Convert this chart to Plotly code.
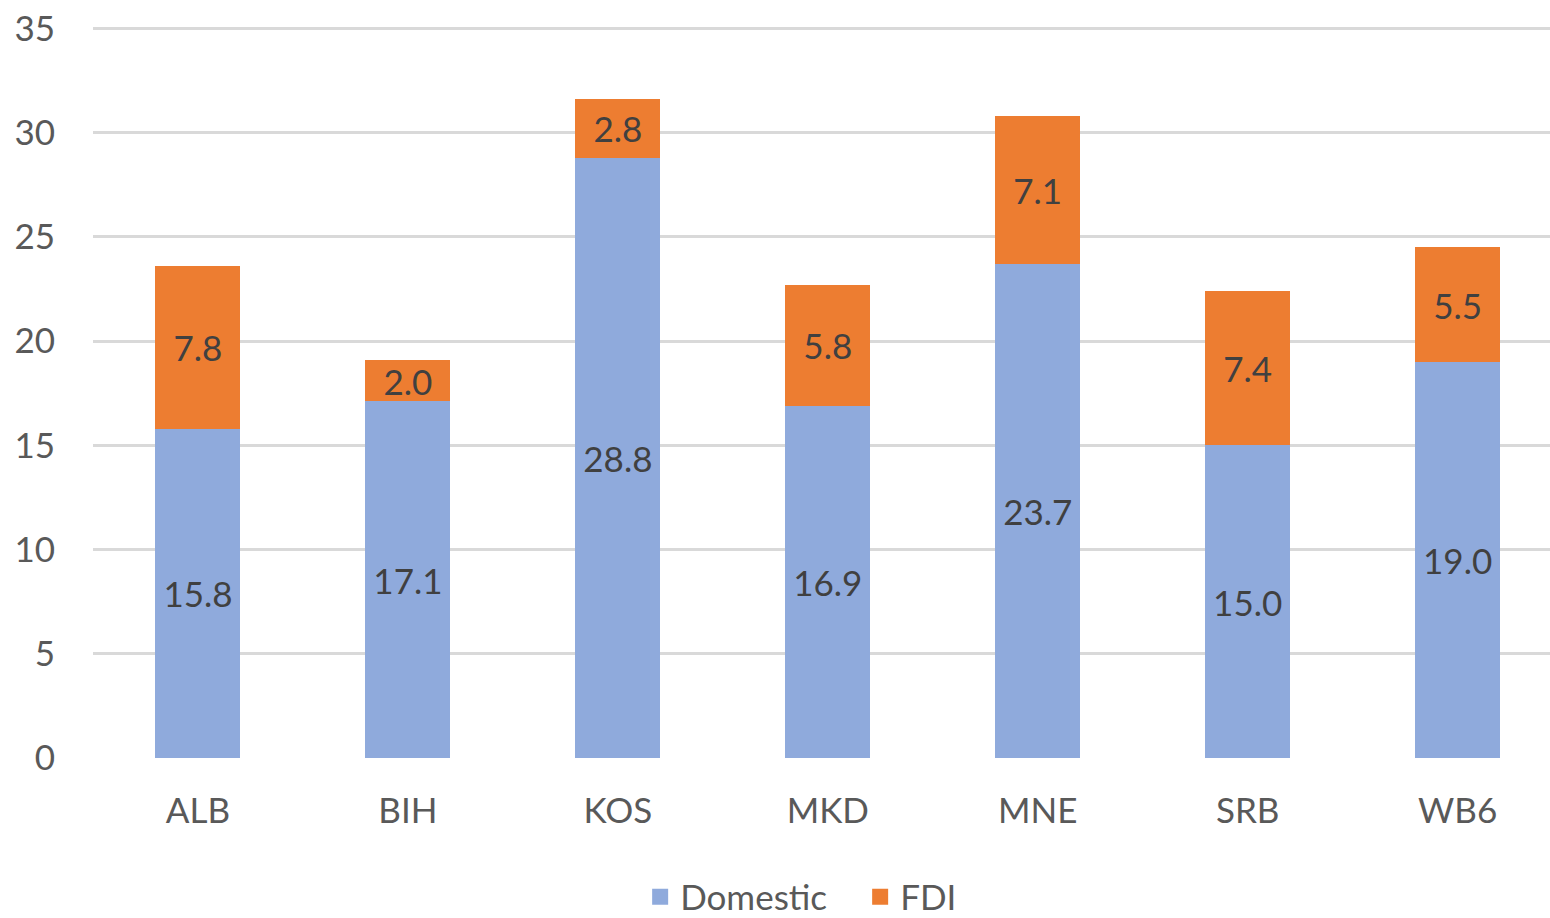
import plotly.graph_objects as go

# Investment by source, share of GDP (%)
economies = ["ALB", "BIH", "KOS", "MKD", "MNE", "SRB", "WB6"]
domestic = [15.8, 17.1, 28.8, 16.9, 23.7, 15.0, 19.0]
fdi = [7.8, 2.0, 2.8, 5.8, 7.1, 7.4, 5.5]
y_ticks = [0, 5, 10, 15, 20, 25, 30, 35]

FONT = "Lato, 'Open Sans', sans-serif"
LABEL_COLOR = "#404040"
AXIS_COLOR = "#595959"
COLORS = {"Domestic": "#8FAADC", "FDI": "#ED7D31"}

fig = go.Figure()
for name, vals in (("Domestic", domestic), ("FDI", fdi)):
    fig.add_trace(go.Bar(
        name=name, x=economies, y=vals, width=0.405, showlegend=False,
        marker=dict(color=COLORS[name], line=dict(width=0)),
        text=[f"{v:.1f}" for v in vals], textposition="inside",
        insidetextanchor="middle", textangle=0,
        textfont=dict(family=FONT, size=35, color=LABEL_COLOR),
    ))

# square legend keys
for name in ("Domestic", "FDI"):
    fig.add_trace(go.Scatter(
        name=name, x=[None], y=[None], mode="markers",
        marker=dict(symbol="square", size=20, color=COLORS[name]),
    ))

fig.update_layout(
    barmode="stack",
    width=1550, height=918,
    margin=dict(l=93, r=0, t=22, b=160),
    paper_bgcolor="white", plot_bgcolor="white",
    font=dict(family=FONT, size=35, color=AXIS_COLOR),
    uniformtext=dict(minsize=35, mode="show"),
    showlegend=True,
    legend=dict(
        orientation="h", x=0.413, xanchor="left", xref="container",
        yref="container", y=0.023, yanchor="middle",
        font=dict(family=FONT, size=35, color=AXIS_COLOR),
        itemwidth=30, tracegroupgap=0, traceorder="normal",
        entrywidth=175, entrywidthmode="pixels",
        bgcolor="rgba(0,0,0,0)",
    ),
    xaxis=dict(
        type="category", range=[-0.5, 6.44],
        showgrid=False, zeroline=False, showline=False,
        ticks="outside", ticklen=22, tickcolor="rgba(0,0,0,0)",
        tickfont=dict(family=FONT, size=35, color=AXIS_COLOR),
    ),
    yaxis=dict(
        range=[0, 35.3], tickvals=y_ticks,
        showgrid=True, gridcolor="#D9D9D9", gridwidth=3,
        zeroline=False, showline=False,
        ticks="outside", ticklen=30, tickcolor="rgba(0,0,0,0)",
        tickfont=dict(family=FONT, size=35, color=AXIS_COLOR),
    ),
)

fig.write_html("out.html")
